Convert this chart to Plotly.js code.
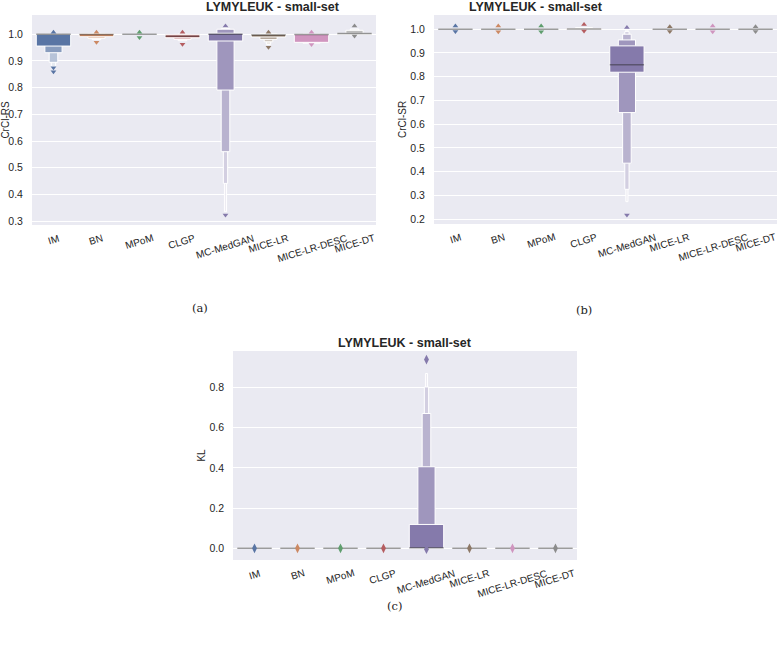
<!DOCTYPE html>
<html><head><meta charset="utf-8">
<script src="https://cdn.plot.ly/plotly-3.0.1.min.js"></script>
<style>body{margin:0;background:#fff}#chart{width:778px;height:649px}</style>
</head><body><div id="chart"></div>
<script>
const categories = ["IM","BN","MPoM","CLGP","MC-MedGAN","MICE-LR","MICE-LR-DESC","MICE-DT"];
const paletteColors = ['#5975a4','#cc8963','#5f9e6e','#b55d60','#857aab','#8d7866','#d095bf','#8c8c8c'];
const chartTitle = "LYMYLEUK - small-set";

// (a) CrCl-RS letter-value boxes (level 0 = innermost)
const rsLow = [
  [0.956, 0.931, 0.895, 0.879],
  [0.991, 0.985, 0.980],
  [0.999],
  [0.987, 0.981, 0.976],
  [0.975, 0.791, 0.560, 0.441, 0.335],
  [0.990, 0.981, 0.972, 0.962],
  [0.970, 0.967],
  [1.000, 0.999, 0.998]
];
const rsHigh = [
  [1.000, 1.000, 1.000, 1.000],
  [1.002, 1.003, 1.004],
  [1.001],
  [0.998, 1.000, 1.001],
  [1.004, 1.019, 1.022, 1.024, 1.026],
  [1.000, 1.002, 1.003, 1.004],
  [1.000, 1.001],
  [1.004, 1.015, 1.020]
];
const rsMedian = [1.0, 0.999, 1.0, 0.993, 1.0, 0.997, 0.999, 1.003];
const rsOutUp = [[1.0075],[1.0075],[1.008],[1.0075],[1.031],[1.0075],[1.0075],[1.031]];
const rsOutDown = [[0.875,0.860],[0.970],[0.988],[0.963],[0.3225],[0.952],[0.962],[0.994]];

// (b) CrCl-SR
const srLow = [
  [0.999],[0.999],[0.999],[0.999, 0.999],
  [0.819, 0.649, 0.436, 0.326, 0.274],
  [0.999],[0.999],[0.999]
];
const srHigh = [
  [1.001],[1.001],[1.001],[1.003, 1.007],
  [0.930, 0.955, 0.979, 0.990, 0.997],
  [1.001],[1.001],[1.001]
];
const srMedian = [1.0, 1.0, 1.0, 1.001, 0.85, 1.0, 1.0, 1.0];
const srOutUp = [[1.014],[1.014],[1.014],[1.020],[1.007],[1.011],[1.014],[1.011]];
const srOutDown = [[0.990],[0.989],[0.989],[0.993],[0.218],[0.991],[0.989],[0.991]];

// (c) KL
const klLow = [
  [0.0],[0.0],[0.0],[0.0],
  [0.0, 0.0, 0.0, 0.0, 0.0],
  [0.0],[0.0],[0.0]
];
const klHigh = [
  [0.002],[0.002],[0.002],[0.002],
  [0.119, 0.406, 0.671, 0.803, 0.870],
  [0.002],[0.002],[0.002]
];
const klMedian = [0.0, 0.0, 0.0, 0.0, 0.003, 0.0, 0.0, 0.0];
const klOut = [[0.0],[0.0],[0.0],[0.0],[0.939,-0.004],[0.0],[0.0],[0.0]];

function mix(hex, t) {
  const r = parseInt(hex.slice(1,3),16), g = parseInt(hex.slice(3,5),16), b = parseInt(hex.slice(5,7),16);
  const f = c => Math.round(c + (255 - c) * t);
  return 'rgb(' + f(r) + ',' + f(g) + ',' + f(b) + ')';
}

function buildPanel(xa, ya, low, high, median) {
  const traces = [];
  const maxLev = Math.max(...low.map(a => a.length));
  for (let k = maxLev - 1; k >= 0; k--) {
    const xs = [], bases = [], hs = [], cols = [];
    low.forEach((lv, i) => {
      if (k < lv.length) {
        const n = lv.length;
        xs.push(i); bases.push(lv[k]); hs.push(high[i][k] - lv[k]);
        cols.push(mix(paletteColors[i], n > 1 ? 0.85 * k / (n - 1) : 0));
      }
    });
    traces.push({type:'bar', x:xs, base:bases, y:hs, width:0.8 * Math.pow(0.5, k),
      marker:{color:cols, line:{color:'white', width:1}}, xaxis:xa, yaxis:ya,
      hoverinfo:'skip', showlegend:false});
  }
  const mx = [], my = [];
  median.forEach((m, i) => { mx.push(i - 0.4, i + 0.4, null); my.push(m, m, null); });
  traces.push({type:'scatter', mode:'lines', x:mx, y:my, line:{color:'rgba(38,38,38,0.45)', width:1.5},
    xaxis:xa, yaxis:ya, hoverinfo:'skip', showlegend:false});
  return traces;
}

function outlierTrace(xa, ya, outs, symbol, size) {
  const xs = [], ys = [], cols = [];
  outs.forEach((arr, i) => arr.forEach(v => { xs.push(i); ys.push(v); cols.push(paletteColors[i]); }));
  return {type:'scatter', mode:'markers', x:xs, y:ys, xaxis:xa, yaxis:ya,
    marker:{symbol:symbol, size:size, color:cols, line:{width:0}}, hoverinfo:'skip', showlegend:false};
}

const data = [].concat(
  buildPanel('x', 'y', rsLow, rsHigh, rsMedian),
  [outlierTrace('x','y', rsOutUp, 'triangle-up', 5), outlierTrace('x','y', rsOutDown, 'triangle-down', 5)],
  buildPanel('x2', 'y2', srLow, srHigh, srMedian),
  [outlierTrace('x2','y2', srOutUp, 'triangle-up', 5), outlierTrace('x2','y2', srOutDown, 'triangle-down', 5)],
  buildPanel('x3', 'y3', klLow, klHigh, klMedian),
  [outlierTrace('x3','y3', klOut, 'diamond-tall', 7)]
);

const sans = 'Liberation Sans, Arial, sans-serif';
const tickFont = {family:sans, size:10.5, color:'#262626'};
const labelFont = {family:sans, size:10, color:'#262626'};
function xAxis(domain, anchor) {
  return {domain:domain, anchor:anchor, range:[-0.5, 7.5], tickmode:'array',
    tickvals:categories.map((c, i) => i), showticklabels:false,
    showgrid:false, zeroline:false, showline:false, ticks:''};
}
function yAxis(domain, anchor, range, tickvals, title) {
  return {domain:domain, anchor:anchor, range:range, tickmode:'array', tickvals:tickvals,
    tickformat:'.1f', showgrid:true, gridcolor:'white', gridwidth:1, zeroline:false, showline:false,
    ticks:'', tickfont:tickFont, ticklabelstandoff:8,
    title:{text:title, font:labelFont, standoff:1}};
}

const annotations = [];
function addTitle(x, yTop) {
  annotations.push({text:'<b>' + chartTitle + '</b>', x:x, y:1 - yTop/649, xref:'paper', yref:'paper',
    showarrow:false, font:{family:sans, size:12.5, color:'#262626'}, yanchor:'middle'});
}
addTitle(0.2622, 7); addTitle(0.7782, 7); addTitle(0.5205, 343);
function addTickLabels(xref, topPx) {
  categories.forEach((c, i) => annotations.push({text:c, x:i, xref:xref, y:1 - topPx/649, yref:'paper',
    xanchor:'center', yanchor:'top', textangle:-17, showarrow:false, font:labelFont}));
}
addTickLabels('x', 230); addTickLabels('x2', 229); addTickLabels('x3', 565);
[['(a)', 190, 308], ['(b)', 594, 310], ['(c)', 394, 606]].forEach(([t, x, y]) =>
  annotations.push({text:t, x:x/778, y:1 - y/649, xref:'paper', yref:'paper', showarrow:false,
    font:{family:'DejaVu Serif, Liberation Serif, serif', size:11.5, color:'#222'}, yanchor:'middle'}));

const layout = {
  width:778, height:649, margin:{l:0, r:0, t:0, b:0}, paper_bgcolor:'white',
  barmode:'overlay', bargap:0,
  xaxis: xAxis([0.0411, 0.4833], 'y'),
  yaxis: yAxis([0.6533, 0.9769], 'x', [0.285, 1.0725], [0.3,0.4,0.5,0.6,0.7,0.8,0.9,1.0], 'CrCl-RS'),
  xaxis2: xAxis([0.5578, 0.9987], 'y2'),
  yaxis2: yAxis([0.6549, 0.9769], 'x2', [0.180, 1.060], [0.2,0.3,0.4,0.5,0.6,0.7,0.8,0.9,1.0], 'CrCl-SR'),
  xaxis3: xAxis([0.2995, 0.7416], 'y3'),
  yaxis3: yAxis([0.1371, 0.4592], 'x3', [-0.058, 0.982], [0.0,0.2,0.4,0.6,0.8], 'KL'),
  plot_bgcolor:'#EAEAF2',
  annotations: annotations
};

Plotly.newPlot('chart', data, layout, {displayModeBar:false, staticPlot:true});
</script></body></html>
